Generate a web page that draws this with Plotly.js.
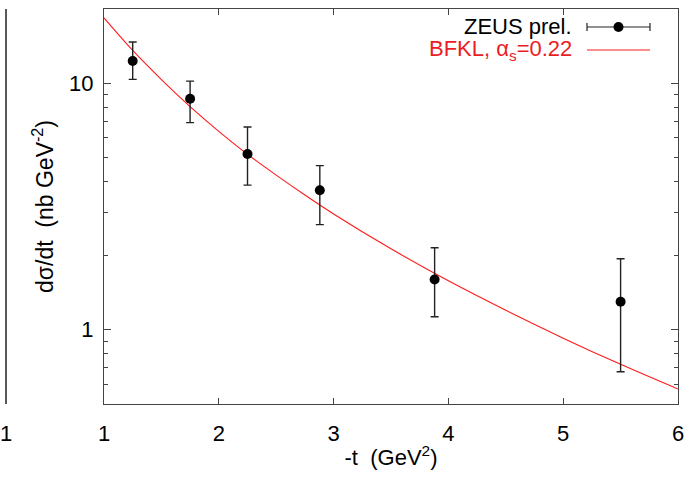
<!DOCTYPE html>
<html>
<head>
<meta charset="utf-8">
<script src="https://cdn.plot.ly/plotly-3.0.1.min.js"></script>
<style>html,body{margin:0;padding:0;background:#fff;}#chart{width:699px;height:481px;}</style>
</head>
<body>
<div id="chart"></div>
<script>
// ZEUS preliminary data
var dataT = [1.25, 1.75, 2.25, 2.88, 3.88, 5.5];
var dataY = [12.3, 8.65, 5.16, 3.68, 1.60, 1.30];
var errUp = [14.7, 10.2, 6.64, 4.63, 2.15, 1.94];
var errLo = [10.37, 6.92, 3.86, 2.67, 1.13, 0.676];

// BFKL curve, alpha_s = 0.22
var curveT = [1.0, 1.25, 1.5, 1.75, 2.0, 2.25, 2.5, 2.75, 3.0, 3.5, 4.0, 4.5, 5.0, 5.5, 6.0];
var curveY = [18.4, 13.58, 10.35, 8.04, 6.38, 5.15, 4.24, 3.52, 2.95, 2.13, 1.58, 1.20, 0.925, 0.724, 0.575];

var xTicks = [1, 2, 3, 4, 5, 6];
var yTicks = [1, 10];
var yMinor = [0.6, 0.7, 0.8, 0.9, 2, 3, 4, 5, 6, 7, 8, 9];

var plusArr = dataY.map(function (v, i) { return errUp[i] - v; });
var minusArr = dataY.map(function (v, i) { return v - errLo[i]; });

var FONT = 'Liberation Sans, Arial, sans-serif';
var NB = '\u00a0';

var traces = [
  {
    x: curveT, y: curveY, type: 'scatter', mode: 'lines',
    line: {color: '#ff1a1a', width: 1.1, shape: 'spline', smoothing: 1},
    showlegend: false, hoverinfo: 'skip'
  },
  {
    x: dataT, y: dataY, type: 'scatter', mode: 'markers',
    marker: {color: '#000', size: 10},
    error_y: {type: 'data', symmetric: false, array: plusArr, arrayminus: minusArr,
              color: '#222', thickness: 1.4, width: 4},
    showlegend: false
  }
];

var layout = {
  width: 699, height: 481,
  margin: {l: 104, r: 21, t: 9, b: 77},
  paper_bgcolor: '#fff', plot_bgcolor: '#fff',
  font: {family: FONT, size: 22, color: '#000'},
  showlegend: false,
  xaxis: {
    range: [1, 6], tickvals: xTicks, ticktext: xTicks.map(String),
    ticks: 'inside', ticklen: 6, tickcolor: '#444', tickwidth: 1,
    showline: true, linecolor: '#444', linewidth: 1, mirror: 'ticks',
    showgrid: false, zeroline: false,
    ticklabelstandoff: 10,
    tickfont: {family: FONT, size: 22, color: '#000'},
    title: {text: '-t' + NB + NB + '(GeV<sup>2</sup>)', font: {family: FONT, size: 22, color: '#000'}, standoff: 4}
  },
  yaxis: {
    type: 'log', range: [Math.log10(0.5), Math.log10(20)],
    tickvals: yTicks, ticktext: yTicks.map(String),
    ticks: 'inside', ticklen: 7, tickcolor: '#444', tickwidth: 1,
    minor: {tickvals: yMinor, ticks: 'inside', ticklen: 4, tickcolor: '#444', showgrid: false},
    showline: true, linecolor: '#444', linewidth: 1, mirror: 'ticks',
    showgrid: false, zeroline: false,
    ticklabelstandoff: 5,
    tickfont: {family: FONT, size: 22, color: '#000'},
    title: {text: 'd\u03c3/dt' + NB + NB + '(nb' + NB + 'GeV<sup>-2</sup>)', font: {family: FONT, size: 23, color: '#000'}, standoff: 9}
  },
  annotations: [
    {xref: 'paper', yref: 'paper', x: (574 - 104) / 574, y: 1 - (26 - 9) / 395,
     xanchor: 'right', yanchor: 'middle', showarrow: false,
     text: 'ZEUS prel.', font: {family: FONT, size: 22, color: '#000'}},
    {xref: 'paper', yref: 'paper', x: (574 - 104) / 574, y: 1 - (50 - 9) / 395,
     xanchor: 'right', yanchor: 'middle', showarrow: false,
     text: 'BFKL, \u03b1<sub>s</sub>=0.22', font: {family: FONT, size: 22, color: '#ec1c24'}},
    {xref: 'paper', yref: 'paper', x: (6 - 104) / 574, y: 1 - (433 - 9) / 395,
     xanchor: 'center', yanchor: 'middle', showarrow: false,
     text: '1', font: {family: FONT, size: 22, color: '#000'}}
  ],
  shapes: [
    // legend: data symbol
    {type: 'line', xref: 'paper', yref: 'paper', x0: (587 - 104) / 574, x1: (650 - 104) / 574,
     y0: 1 - (27 - 9) / 395, y1: 1 - (27 - 9) / 395, line: {color: '#222', width: 1.2}},
    {type: 'line', xref: 'paper', yref: 'paper', x0: (587 - 104) / 574, x1: (587 - 104) / 574,
     y0: 1 - (23 - 9) / 395, y1: 1 - (31 - 9) / 395, line: {color: '#222', width: 1.2}},
    {type: 'line', xref: 'paper', yref: 'paper', x0: (650 - 104) / 574, x1: (650 - 104) / 574,
     y0: 1 - (23 - 9) / 395, y1: 1 - (31 - 9) / 395, line: {color: '#222', width: 1.2}},
    {type: 'circle', xref: 'paper', yref: 'paper', x0: (613.5 - 104) / 574, x1: (623.5 - 104) / 574,
     y0: 1 - (22 - 9) / 395, y1: 1 - (32 - 9) / 395, fillcolor: '#000', line: {color: '#000', width: 0}},
    // legend: curve symbol
    {type: 'line', xref: 'paper', yref: 'paper', x0: (587 - 104) / 574, x1: (650 - 104) / 574,
     y0: 1 - (50 - 9) / 395, y1: 1 - (50 - 9) / 395, line: {color: '#ff1a1a', width: 1.1}},
    // neighbouring panel edge at far left
    {type: 'line', xref: 'paper', yref: 'paper', x0: (6 - 104) / 574, x1: (6 - 104) / 574,
     y0: 0, y1: 1, line: {color: '#222', width: 1.5}}
  ]
};

Plotly.newPlot('chart', traces, layout, {displayModeBar: false, staticPlot: true});
</script>
</body>
</html>
